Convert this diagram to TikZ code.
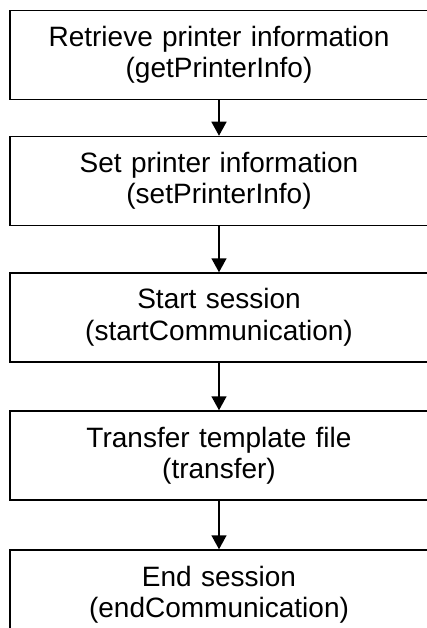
\documentclass[tikz,border=0pt]{standalone}
\usepackage{fontspec}
\setmainfont{Liberation Sans}
\usetikzlibrary{arrows.meta}
\begin{document}
\begin{tikzpicture}[x=1pt,y=1pt,
  stepbox/.style={draw=black, line width=1.5pt, minimum width=418pt, minimum height=89pt,
    text width=400pt, align=center, inner sep=0pt,
    font=\fontsize{28}{31.5}\selectfont},
  flow/.style={line width=1.5pt, -{Triangle[width=15pt,length=14pt]}}]
\useasboundingbox (0,0) rectangle (426,-628);
\node[stepbox] (s1) at (219,-55) {Retrieve printer information\\(getPrinterInfo)};
\node[stepbox] (s2) at (219,-181) {Set printer information\\(setPrinterInfo)};
\node[stepbox] (s3) at (219,-317.5) {Start session\\(startCommunication)};
\node[stepbox] (s4) at (219,-455.5) {Transfer template file\\(transfer)};
\node[stepbox] (s5) at (219,-594.5) {End session\\(endCommunication)};
\draw[flow] (s1) -- (s2);
\draw[flow] (s2) -- (s3);
\draw[flow] (s3) -- (s4);
\draw[flow] (s4) -- (s5);
\end{tikzpicture}
\end{document}
